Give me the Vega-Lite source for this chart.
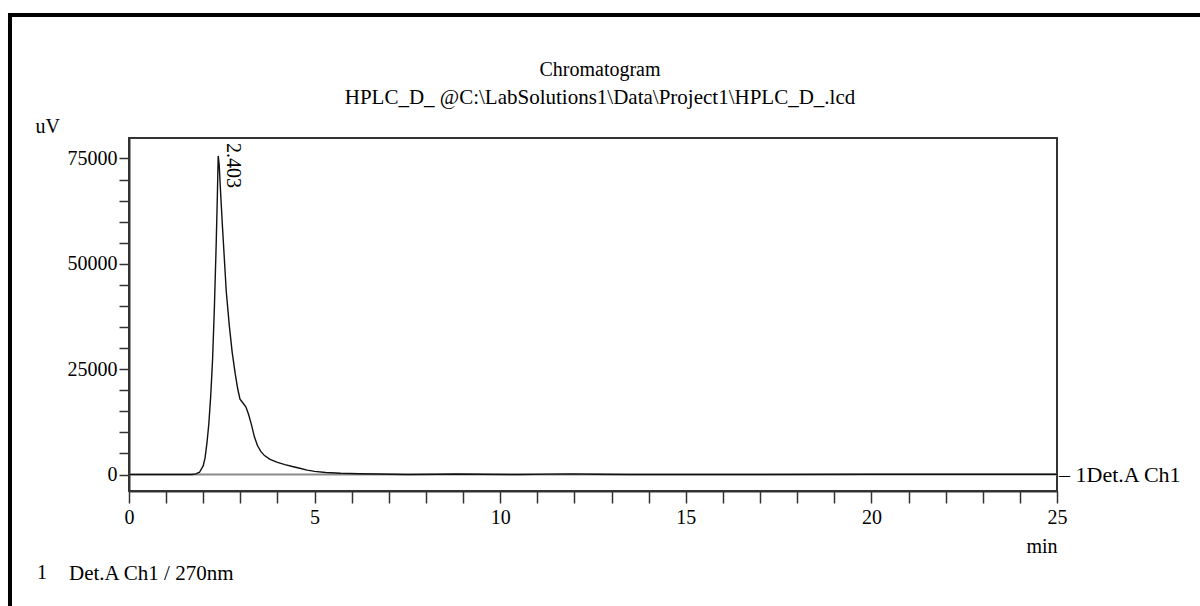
{
  "$schema": "https://vega.github.io/schema/vega-lite/v6.json",
  "autosize": {"type": "none"},
  "padding": {"left": 129, "top": 138, "right": 143, "bottom": 115},
  "width": 928,
  "height": 353,
  "background": "white",
  "config": {
    "font": "Liberation Serif",
    "view": {"stroke": "#333", "strokeWidth": 2},
    "axis": {
      "labelFontSize": 20,
      "labelColor": "black",
      "labelOverlap": false,
      "labelFlush": false,
      "domainColor": "#333",
      "domainWidth": 2,
      "tickColor": "#333",
      "tickWidth": 1.5,
      "grid": false,
      "titleFontSize": 20,
      "titleFontWeight": "normal",
      "titleColor": "black"
    }
  },
  "title": {
    "text": "Chromatogram",
    "subtitle": "HPLC_D_ @C:\\LabSolutions1\\Data\\Project1\\HPLC_D_.lcd",
    "font": "Liberation Serif",
    "subtitleFont": "Liberation Serif",
    "fontSize": 20,
    "subtitleFontSize": 21,
    "fontWeight": "normal",
    "color": "black",
    "subtitleColor": "black",
    "anchor": "middle",
    "frame": "group",
    "offset": -96,
    "dx": 7,
    "subtitlePadding": 7
  },
  "datasets": {
    "trace": [
      {"t": 0, "uV": 0},
      {"t": 1.0, "uV": 0},
      {"t": 1.7, "uV": 0},
      {"t": 1.8, "uV": 150},
      {"t": 1.9, "uV": 550},
      {"t": 2.0, "uV": 2100},
      {"t": 2.05, "uV": 4000},
      {"t": 2.1, "uV": 7500},
      {"t": 2.15, "uV": 12000},
      {"t": 2.2, "uV": 18500},
      {"t": 2.25, "uV": 27000},
      {"t": 2.3, "uV": 39500},
      {"t": 2.35, "uV": 55000},
      {"t": 2.38, "uV": 66000},
      {"t": 2.403, "uV": 75600},
      {"t": 2.43, "uV": 73500},
      {"t": 2.47, "uV": 66500},
      {"t": 2.52, "uV": 58500},
      {"t": 2.57, "uV": 51000},
      {"t": 2.62, "uV": 43500},
      {"t": 2.7, "uV": 35500},
      {"t": 2.78, "uV": 29000},
      {"t": 2.86, "uV": 24000},
      {"t": 2.93, "uV": 20300},
      {"t": 2.99, "uV": 17900},
      {"t": 3.06, "uV": 17100},
      {"t": 3.15, "uV": 16000},
      {"t": 3.22, "uV": 14300},
      {"t": 3.3, "uV": 11800},
      {"t": 3.38, "uV": 8900},
      {"t": 3.46, "uV": 6900},
      {"t": 3.55, "uV": 5500},
      {"t": 3.65, "uV": 4500},
      {"t": 3.8, "uV": 3600},
      {"t": 4.0, "uV": 2900},
      {"t": 4.2, "uV": 2350},
      {"t": 4.4, "uV": 1900},
      {"t": 4.6, "uV": 1500},
      {"t": 4.8, "uV": 1050},
      {"t": 5.0, "uV": 750},
      {"t": 5.3, "uV": 480},
      {"t": 5.7, "uV": 300},
      {"t": 6.2, "uV": 200},
      {"t": 6.7, "uV": 120},
      {"t": 7.5, "uV": 30},
      {"t": 8.3, "uV": 80},
      {"t": 8.8, "uV": 150},
      {"t": 9.5, "uV": 60},
      {"t": 10.5, "uV": 20},
      {"t": 11.3, "uV": 100},
      {"t": 11.9, "uV": 170},
      {"t": 12.6, "uV": 70},
      {"t": 13.5, "uV": 10},
      {"t": 16.5, "uV": 0},
      {"t": 20, "uV": 60},
      {"t": 25, "uV": 60}
    ],
    "peaks": [{"rt": 2.403, "uV": 75600}]
  },
  "layer": [
    {
      "data": {"values": [{}]},
      "mark": {"type": "rule", "color": "black", "strokeWidth": 4, "strokeCap": "square"},
      "encoding": {
        "x": {"datum": -3.206, "type": "quantitative", "scale": {"domain": [0, 25], "nice": false, "zero": false},
          "axis": {"values": [0,1,2,3,4,5,6,7,8,9,10,11,12,13,14,15,16,17,18,19,20,21,22,23,24,25], "tickCount": 26, "labelExpr": "datum.value % 5 === 0 ? datum.label : ''", "tickSize": 12, "encode": {"ticks": {"update": {"y2": {"signal": "datum.value % 5 === 0 ? 12 : 6"}}}}, "labelPadding": 4, "title": "min", "titleAnchor": "end", "titlePadding": 9}},
        "y": {"datum": 109032, "type": "quantitative", "scale": {"domain": [-3900, 79850], "nice": false, "zero": false},
          "axis": {"values": [0,5000,10000,15000,20000,25000,30000,35000,40000,45000,50000,55000,60000,65000,70000,75000], "tickCount": 16, "format": "d", "labelExpr": "datum.value % 25000 === 0 ? datum.label : ''", "tickSize": 10, "encode": {"ticks": {"update": {"x2": {"signal": "datum.value % 25000 === 0 ? -10 : -5"}}}}, "labelPadding": 2, "title": "uV", "titleAngle": 0, "titleX": -94, "titleY": -6, "titleAlign": "left", "titleBaseline": "alphabetic"}},
        "y2": {"datum": -40000}
      }
    },
    {
      "data": {"values": [{}]},
      "mark": {"type": "rule", "color": "black", "strokeWidth": 4, "strokeCap": "square"},
      "encoding": {
        "x": {"datum": -3.206, "type": "quantitative", "scale": {"domain": [0, 25], "nice": false, "zero": false},
          "axis": {"values": [0,1,2,3,4,5,6,7,8,9,10,11,12,13,14,15,16,17,18,19,20,21,22,23,24,25], "tickCount": 26, "labelExpr": "datum.value % 5 === 0 ? datum.label : ''", "tickSize": 12, "encode": {"ticks": {"update": {"y2": {"signal": "datum.value % 5 === 0 ? 12 : 6"}}}}, "labelPadding": 4, "title": "min", "titleAnchor": "end", "titlePadding": 9}},
        "x2": {"datum": 32},
        "y": {"datum": 109032, "type": "quantitative", "scale": {"domain": [-3900, 79850], "nice": false, "zero": false},
          "axis": {"values": [0,5000,10000,15000,20000,25000,30000,35000,40000,45000,50000,55000,60000,65000,70000,75000], "tickCount": 16, "format": "d", "labelExpr": "datum.value % 25000 === 0 ? datum.label : ''", "tickSize": 10, "encode": {"ticks": {"update": {"x2": {"signal": "datum.value % 25000 === 0 ? -10 : -5"}}}}, "labelPadding": 2, "title": "uV", "titleAngle": 0, "titleX": -94, "titleY": -6, "titleAlign": "left", "titleBaseline": "alphabetic"}}
      }
    },
    {
      "data": {"values": [{}]},
      "mark": {"type": "rule", "color": "#8a8a8a", "strokeWidth": 2},
      "encoding": {
        "x": {"datum": 0, "type": "quantitative", "scale": {"domain": [0, 25], "nice": false, "zero": false},
          "axis": {"values": [0,1,2,3,4,5,6,7,8,9,10,11,12,13,14,15,16,17,18,19,20,21,22,23,24,25], "tickCount": 26, "labelExpr": "datum.value % 5 === 0 ? datum.label : ''", "tickSize": 12, "encode": {"ticks": {"update": {"y2": {"signal": "datum.value % 5 === 0 ? 12 : 6"}}}}, "labelPadding": 4, "title": "min", "titleAnchor": "end", "titlePadding": 9}},
        "x2": {"datum": 25},
        "y": {"datum": 0, "type": "quantitative", "scale": {"domain": [-3900, 79850], "nice": false, "zero": false},
          "axis": {"values": [0,5000,10000,15000,20000,25000,30000,35000,40000,45000,50000,55000,60000,65000,70000,75000], "tickCount": 16, "format": "d", "labelExpr": "datum.value % 25000 === 0 ? datum.label : ''", "tickSize": 10, "encode": {"ticks": {"update": {"x2": {"signal": "datum.value % 25000 === 0 ? -10 : -5"}}}}, "labelPadding": 2, "title": "uV", "titleAngle": 0, "titleX": -94, "titleY": -6, "titleAlign": "left", "titleBaseline": "alphabetic"}}
      }
    },
    {
      "data": {"name": "trace"},
      "mark": {"type": "line", "color": "#111", "strokeWidth": 1.4},
      "encoding": {
        "x": {"field": "t", "type": "quantitative", "scale": {"domain": [0, 25], "nice": false, "zero": false},
          "axis": {"values": [0,1,2,3,4,5,6,7,8,9,10,11,12,13,14,15,16,17,18,19,20,21,22,23,24,25], "tickCount": 26, "labelExpr": "datum.value % 5 === 0 ? datum.label : ''", "tickSize": 12, "encode": {"ticks": {"update": {"y2": {"signal": "datum.value % 5 === 0 ? 12 : 6"}}}}, "labelPadding": 4, "title": "min", "titleAnchor": "end", "titlePadding": 9}},
        "y": {"field": "uV", "type": "quantitative", "scale": {"domain": [-3900, 79850], "nice": false, "zero": false},
          "axis": {"values": [0,5000,10000,15000,20000,25000,30000,35000,40000,45000,50000,55000,60000,65000,70000,75000], "tickCount": 16, "format": "d", "labelExpr": "datum.value % 25000 === 0 ? datum.label : ''", "tickSize": 10, "encode": {"ticks": {"update": {"x2": {"signal": "datum.value % 25000 === 0 ? -10 : -5"}}}}, "labelPadding": 2, "title": "uV", "titleAngle": 0, "titleX": -94, "titleY": -6, "titleAlign": "left", "titleBaseline": "alphabetic"}},
        "color": {
          "datum": "Det.A Ch1 / 270nm",
          "type": "nominal",
          "scale": {"range": ["#111"]},
          "legend": {
            "title": "1",
            "orient": "none",
            "legendX": -92,
            "legendY": 425,
            "titleOrient": "left",
            "titleFontSize": 20,
            "titleFontWeight": "normal",
            "titleColor": "black",
            "titlePadding": 1,
            "labelFontSize": 21,
            "labelColor": "black",
            "labelLimit": 400,
            "labelOffset": 0,
            "symbolOpacity": 0,
            "symbolSize": 1,
            "symbolStrokeWidth": 0,
            "padding": 0
          }
        }
      }
    },
    {
      "data": {"name": "peaks"},
      "mark": {"type": "text", "angle": 90, "align": "left", "baseline": "middle", "dx": -13, "dy": -15, "fontSize": 20, "color": "black"},
      "encoding": {
        "x": {"field": "rt", "type": "quantitative", "scale": {"domain": [0, 25], "nice": false, "zero": false},
          "axis": {"values": [0,1,2,3,4,5,6,7,8,9,10,11,12,13,14,15,16,17,18,19,20,21,22,23,24,25], "tickCount": 26, "labelExpr": "datum.value % 5 === 0 ? datum.label : ''", "tickSize": 12, "encode": {"ticks": {"update": {"y2": {"signal": "datum.value % 5 === 0 ? 12 : 6"}}}}, "labelPadding": 4, "title": "min", "titleAnchor": "end", "titlePadding": 9}},
        "y": {"field": "uV", "type": "quantitative", "scale": {"domain": [-3900, 79850], "nice": false, "zero": false},
          "axis": {"values": [0,5000,10000,15000,20000,25000,30000,35000,40000,45000,50000,55000,60000,65000,70000,75000], "tickCount": 16, "format": "d", "labelExpr": "datum.value % 25000 === 0 ? datum.label : ''", "tickSize": 10, "encode": {"ticks": {"update": {"x2": {"signal": "datum.value % 25000 === 0 ? -10 : -5"}}}}, "labelPadding": 2, "title": "uV", "titleAngle": 0, "titleX": -94, "titleY": -6, "titleAlign": "left", "titleBaseline": "alphabetic"}},
        "text": {"field": "rt", "type": "quantitative", "format": ".3f"}
      }
    },
    {
      "data": {"values": [{}]},
      "mark": {"type": "text", "align": "left", "baseline": "middle", "dx": 2, "fontSize": 22, "color": "black"},
      "encoding": {
        "x": {"datum": 25, "type": "quantitative", "scale": {"domain": [0, 25], "nice": false, "zero": false},
          "axis": {"values": [0,1,2,3,4,5,6,7,8,9,10,11,12,13,14,15,16,17,18,19,20,21,22,23,24,25], "tickCount": 26, "labelExpr": "datum.value % 5 === 0 ? datum.label : ''", "tickSize": 12, "encode": {"ticks": {"update": {"y2": {"signal": "datum.value % 5 === 0 ? 12 : 6"}}}}, "labelPadding": 4, "title": "min", "titleAnchor": "end", "titlePadding": 9}},
        "y": {"datum": 0, "type": "quantitative", "scale": {"domain": [-3900, 79850], "nice": false, "zero": false},
          "axis": {"values": [0,5000,10000,15000,20000,25000,30000,35000,40000,45000,50000,55000,60000,65000,70000,75000], "tickCount": 16, "format": "d", "labelExpr": "datum.value % 25000 === 0 ? datum.label : ''", "tickSize": 10, "encode": {"ticks": {"update": {"x2": {"signal": "datum.value % 25000 === 0 ? -10 : -5"}}}}, "labelPadding": 2, "title": "uV", "titleAngle": 0, "titleX": -94, "titleY": -6, "titleAlign": "left", "titleBaseline": "alphabetic"}},
        "text": {"value": "– 1Det.A Ch1"}
      }
    }
  ]
}
